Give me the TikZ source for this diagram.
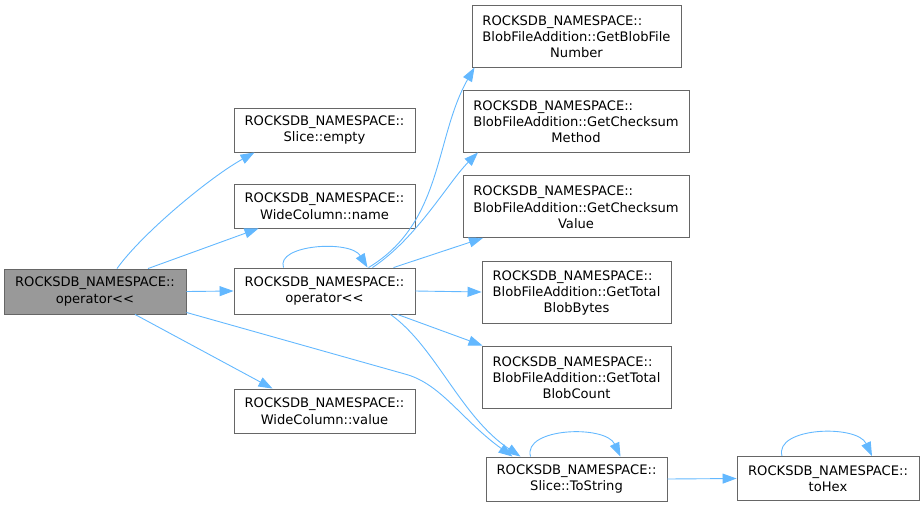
\documentclass[tikz,border=0pt]{standalone}
\usepackage{fontspec}
\setmainfont{DejaVu Sans}
\usetikzlibrary{arrows.meta}
\definecolor{edgeblue}{HTML}{63B8FF}
\definecolor{boxline}{HTML}{666666}
\definecolor{rootfill}{HTML}{999999}
\newcommand{\leftpair}[2]{\begin{tabular}{@{}l@{}}#1\\#2\end{tabular}}

\begin{document}
\begin{tikzpicture}[x=1pt,y=-1pt,
  fn/.style={rectangle,draw=boxline,line width=0.9pt,fill=white,align=center,
    inner sep=0pt,minimum width=181pt,minimum height=44pt,
    font=\fontsize{13.1}{16.5}\selectfont},
  tall/.style={minimum height=62pt},
  call/.style={draw=edgeblue,line width=0.9pt,-{Triangle[length=14pt,width=10pt]}}]
\useasboundingbox (0,0) rectangle (924,507);

\node[fn,fill=rootfill,minimum width=182pt,minimum height=45pt] (root) at (95,291.5) {ROCKSDB\_NAMESPACE::\\operator<\kern0pt<};
\node[fn] (empty) at (324.5,130) {ROCKSDB\_NAMESPACE::\\Slice::empty};
\node[fn] (name) at (324.5,206) {ROCKSDB\_NAMESPACE::\\WideColumn::name};
\node[fn,minimum height=46pt] (op) at (324.5,291) {ROCKSDB\_NAMESPACE::\\operator<\kern0pt<};
\node[fn] (value) at (324.5,411) {ROCKSDB\_NAMESPACE::\\WideColumn::value};
\node[fn,tall,minimum width=209pt] (blobnum) at (576.5,36) {\leftpair{ROCKSDB\_NAMESPACE::}{BlobFileAddition::GetBlobFile}\\Number};
\node[fn,tall,minimum width=226pt] (cksmethod) at (576,121) {\leftpair{ROCKSDB\_NAMESPACE::}{BlobFileAddition::GetChecksum}\\Method};
\node[fn,tall,minimum width=226pt] (cksvalue) at (576,206.5) {\leftpair{ROCKSDB\_NAMESPACE::}{BlobFileAddition::GetChecksum}\\Value};
\node[fn,tall,minimum width=189pt] (totbytes) at (576.5,292) {\leftpair{ROCKSDB\_NAMESPACE::}{BlobFileAddition::GetTotal}\\BlobBytes};
\node[fn,tall,minimum width=189pt] (totcount) at (576.5,377) {\leftpair{ROCKSDB\_NAMESPACE::}{BlobFileAddition::GetTotal}\\BlobCount};
\node[fn] (tostr) at (576.5,479) {ROCKSDB\_NAMESPACE::\\Slice::ToString};
\node[fn,minimum width=182pt] (tohex) at (828,478.5) {ROCKSDB\_NAMESPACE::\\toHex};

\draw[call] ([xshift=22pt]root.north) .. controls +(25,-35) and +(-45,25) .. ([xshift=-70pt]empty.south);
\draw[call] ([xshift=53pt]root.north) -- ([xshift=-66pt]name.south);
\draw[call] (root.east) -- (op.west);
\draw[call] ([xshift=40pt]root.south) -- ([xshift=-52pt]value.north);
\draw[call] ([yshift=2pt]root.south east) -- ++(220,62) .. controls +(35,10) and +(-50,-36) .. ([xshift=-64pt]tostr.north);

\draw[call] ([xshift=-41pt]op.north) .. controls +(-8,-23) and +(-17,-28) .. ([xshift=43pt]op.north);
\draw[call] ([xshift=44pt]op.north) .. controls +(75,-45) and +(-40,70) .. ([xshift=-102pt]blobnum.south);
\draw[call] ([xshift=48pt]op.north) .. controls +(45,-30) and +(-30,30) .. ([xshift=-98pt]cksmethod.south);
\draw[call] ([xshift=69pt]op.north) -- ([xshift=-93pt]cksvalue.south);
\draw[call] (op.east) -- (totbytes.west);
\draw[call] ([xshift=73pt]op.south) -- ([xshift=-94pt]totcount.north);
\draw[call] ([xshift=66pt]op.south) .. controls +(45,32) and +(-60,-40) .. ([xshift=-56pt]tostr.north);

\draw[call] ([xshift=-46pt]tostr.north) .. controls +(-8,-29) and +(-15,-32) .. ([xshift=44pt]tostr.north);
\draw[call] (tostr.east) -- (tohex.west);
\draw[call] ([xshift=-46pt]tohex.north) .. controls +(-8,-29) and +(-15,-32) .. ([xshift=44pt]tohex.north);
\end{tikzpicture}
\end{document}
